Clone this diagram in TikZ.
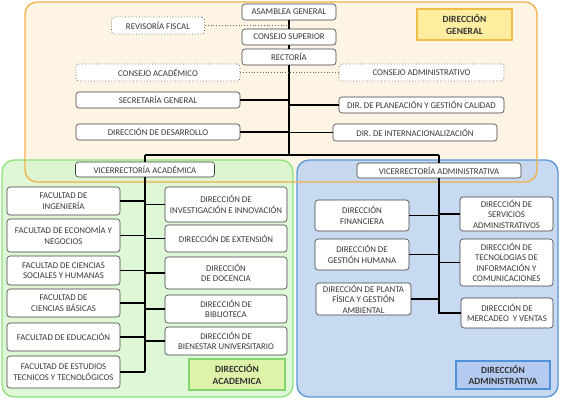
\documentclass[tikz,border=0pt]{standalone}
\usepackage{fontspec}
\setmainfont{Carlito}
\definecolor{orfill}{RGB}{253,244,228}
\definecolor{orline}{RGB}{242,176,74}
\definecolor{grfill}{RGB}{214,245,204}
\definecolor{grline}{RGB}{140,226,120}
\definecolor{blfill}{RGB}{190,212,240}
\definecolor{blline}{RGB}{88,150,215}
\definecolor{dgfill}{RGB}{255,238,160}
\definecolor{dgline}{RGB}{240,190,70}
\definecolor{dafill}{RGB}{222,242,170}
\definecolor{daline}{RGB}{130,215,110}
\definecolor{dbfill}{RGB}{180,202,240}
\definecolor{dbline}{RGB}{80,145,220}
\begin{document}
\begin{tikzpicture}[x=1pt,y=-1pt,
  txt/.style={font=\fontsize{8.8}{10.5}\selectfont, text=black!78, align=center, inner sep=1pt},
  box/.style={txt, draw=black!75, fill=white, rounded corners=3pt, line width=0.6pt},
  dbox/.style={txt, draw=black!60, dotted, fill=white, rounded corners=3pt, line width=0.8pt},
  lbl/.style={font=\fontsize{9.5}{11.5}\selectfont\bfseries, text=black!80, align=center, line width=1.2pt, inner sep=1pt},
  conn/.style={line width=1.3pt, black},
  dconn/.style={line width=0.8pt, black!60, dotted},
  region/.style={rounded corners=12pt, line width=1.3pt}
]
\useasboundingbox (0,0) rectangle (561,400);
% regions
\fill[orfill, rounded corners=12pt] (25,2) rectangle (537,182);
\filldraw[region, draw=grline, fill=grfill, fill opacity=0.8] (2,160) rectangle (293,397);
\filldraw[region, draw=blline, fill=blfill, fill opacity=0.85] (297,160) rectangle (558,397);
\draw[region, draw=orline] (25,2) rectangle (537,182);

% labels
\node[lbl, draw=dgline, fill=dgfill, minimum width=95pt, minimum height=31pt] (dg) at (464.5,24.5) {DIRECCIÓN\\GENERAL};
\node[lbl, draw=daline, fill=dafill, minimum width=96pt, minimum height=31pt] (da) at (237,374.5) {DIRECCIÓN\\ACADEMICA};
\node[lbl, draw=dbline, fill=dbfill, minimum width=94pt, minimum height=28pt] (db) at (503,375) {DIRECCIÓN\\ADMINISTRATIVA};

% top
\node[box, minimum width=94pt, minimum height=16pt] (asm) at (289,12) {ASAMBLEA GENERAL};
\node[box, minimum width=94pt, minimum height=16pt] (cs) at (289,37) {CONSEJO SUPERIOR};
\node[box, minimum width=94pt, minimum height=16pt] (rec) at (289,57) {RECTORÍA};
\node[dbox, minimum width=93pt, minimum height=17pt] (rf) at (158,25.5) {REVISORÍA FISCAL};
\node[dbox, minimum width=164pt, minimum height=17pt] (cac) at (158,72.5) {CONSEJO ACADÉMICO};
\node[dbox, minimum width=165pt, minimum height=17pt] (cad) at (421.5,72.5) {CONSEJO ADMINISTRATIVO};
\node[box, minimum width=164pt, minimum height=16pt] (sec) at (158,100) {SECRETARÍA GENERAL};
\node[box, minimum width=164pt, minimum height=16pt] (des) at (158,132) {DIRECCIÓN DE DESARROLLO};
\node[box, minimum width=165pt, minimum height=16pt] (pla) at (421.5,105) {DIR. DE PLANEACIÓN Y GESTIÓN CALIDAD};
\node[box, minimum width=164pt, minimum height=17pt] (int) at (415,132.5) {DIR. DE INTERNACIONALIZACIÓN};
\node[box, minimum width=139pt, minimum height=15pt] (vra) at (145,169.5) {VICERRECTORÍA ACADÉMICA};
\node[box, minimum width=164pt, minimum height=15pt] (vrd) at (439,170.5) {VICERRECTORÍA ADMINISTRATIVA};

\coordinate (j) at (289,155);
\coordinate (ja) at (145,155);
\coordinate (jb) at (439,155);
\draw[conn] (asm.south) -- (cs.north);
\draw[conn] (cs.south) -- (rec.north);
\draw[conn] (rec.south) -- (j);
\draw[conn] (ja) -- (jb);
\draw[conn] (ja) -- (vra.north);
\draw[conn] (jb) -- (vrd.north);
\draw[conn] (sec.east) -- (sec.east -| j);
\draw[conn] (des.east) -- (des.east -| j);
\draw[conn] (pla.west) -- (pla.west -| j);
\draw[conn] (int.west) -- (int.west -| j);
\draw[dconn] (rf.east) -- (rf.east -| j);
\draw[dconn] (cac.east) -- (cac.east -| j);
\draw[dconn] (cad.west) -- (cad.west -| j);

% academic
\node[box, minimum width=113pt, minimum height=28pt] (f1) at (63.5,201) {FACULTAD DE\\INGENIERÍA};
\node[box, minimum width=113pt, minimum height=33pt] (f2) at (63.5,235.5) {FACULTAD DE ECONOMÍA Y\\NEGOCIOS};
\node[box, minimum width=113pt, minimum height=29pt] (f3) at (63.5,270.5) {FACULTAD DE CIENCIAS\\SOCIALES Y HUMANAS};
\node[box, minimum width=113pt, minimum height=28pt] (f4) at (63.5,303) {FACULTAD DE\\CIENCIAS BÁSICAS};
\node[box, minimum width=113pt, minimum height=28pt] (f5) at (63.5,337) {FACULTAD DE EDUCACIÓN};
\node[box, minimum width=113pt, minimum height=32pt] (f6) at (63.5,372) {FACULTAD DE ESTUDIOS\\TECNICOS Y TECNOLÓGICOS};
\node[box, minimum width=122pt, minimum height=35pt] (d1) at (226,204.5) {DIRECCIÓN DE\\INVESTIGACIÓN E INNOVACIÓN};
\node[box, minimum width=122pt, minimum height=27pt] (d2) at (226,238.5) {DIRECCIÓN DE EXTENSIÓN};
\node[box, minimum width=122pt, minimum height=32pt] (d3) at (226,273) {DIRECCIÓN\\DE DOCENCIA};
\node[box, minimum width=122pt, minimum height=28pt] (d4) at (226,309) {DIRECCIÓN DE\\BIBLIOTECA};
\node[box, minimum width=122pt, minimum height=28pt] (d5) at (226,341) {DIRECCIÓN DE\\BIENESTAR UNIVERSITARIO};

\draw[conn] (vra.south) -- (vra.south |- f6.east);
\foreach \n in {f1,f2,f3,f4,f5,f6} \draw[conn] (\n.east) -- (\n.east -| vra.south);
\foreach \n in {d1,d2,d3,d4,d5} \draw[conn] (\n.west -| vra.south) -- (\n.west);

% administrative
\node[box, minimum width=94pt, minimum height=31pt] (a1) at (362,215.5) {DIRECCIÓN\\FINANCIERA};
\node[box, minimum width=94pt, minimum height=31pt] (a2) at (362,254.5) {DIRECCIÓN DE\\GESTIÓN HUMANA};
\node[box, minimum width=95pt, minimum height=32pt] (a3) at (363.5,299) {DIRECCIÓN DE PLANTA\\FÍSICA Y GESTIÓN\\AMBIENTAL};
\node[box, minimum width=93pt, minimum height=34pt] (b1) at (506.5,214) {DIRECCIÓN DE\\SERVICIOS\\ADMINISTRATIVOS};
\node[box, minimum width=93pt, minimum height=47pt] (b2) at (506.5,262.5) {DIRECCIÓN DE\\TECNOLOGIAS DE\\INFORMACIÓN Y\\COMUNICACIONES};
\node[box, minimum width=92pt, minimum height=30pt] (b3) at (507,313) {DIRECCIÓN DE\\MERCADEO~ Y VENTAS};

\draw[conn] (vrd.south) -- (vrd.south |- b3.west) -- (b3.west);
\foreach \n in {a1,a2,a3} \draw[conn] (\n.east) -- (\n.east -| vrd.south);
\foreach \n in {b1,b2} \draw[conn] (\n.west -| vrd.south) -- (\n.west);
\end{tikzpicture}
\end{document}
